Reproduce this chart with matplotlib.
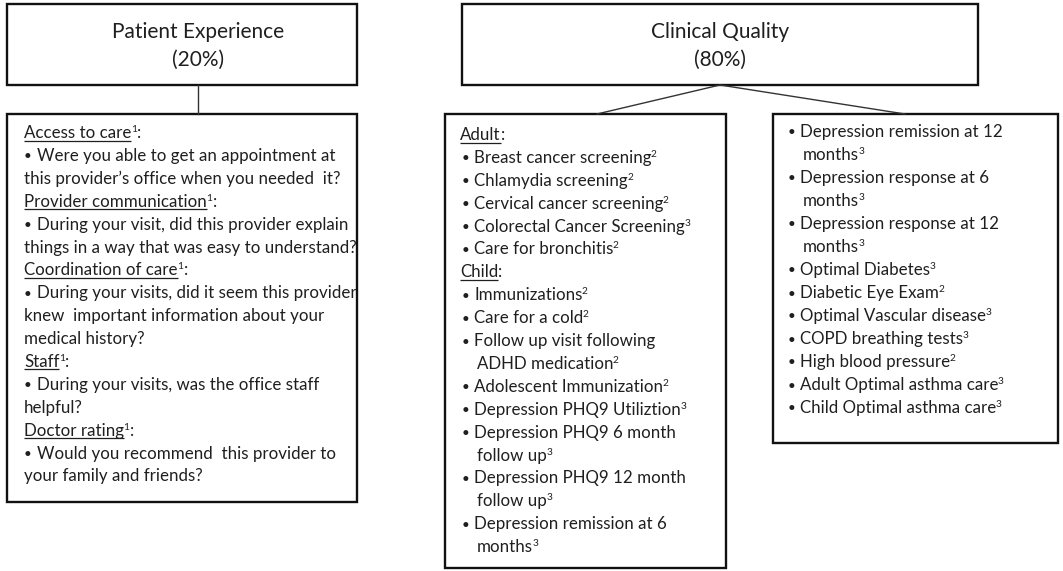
import matplotlib
matplotlib.use("Agg")
import matplotlib.pyplot as plt
from matplotlib.patches import Rectangle

W, H = 1063, 571
FONT = "Lato"
BODY = 12.2
HEAD = 15.0
TXT = "#1f1f1f"

# ---- content (text data) ----
patient_header = ["Patient Experience", "(20%)"]
clinical_header = ["Clinical Quality", "(80%)"]

# patient box lines: list of runs (text, kind) kind: n=normal, u=underline, s=superscript, b=bullet
patient_lines = [
    [("Access to care", "u"), ("1", "s"), (":", "n")],
    [("•", "b"), ("Were you able to get an appointment at", "n")],
    [("this provider’s office when you needed  it?", "n")],
    [("Provider communication", "u"), ("1", "s"), (":", "n")],
    [("•", "b"), ("During your visit, did this provider explain", "n")],
    [("things in a way that was easy to understand?", "n")],
    [("Coordination of care", "u"), ("1", "s"), (":", "n")],
    [("•", "b"), ("During your visits, did it seem this provider", "n")],
    [("knew  important information about your", "n")],
    [("medical history?", "n")],
    [("Staff", "u"), ("1", "s"), (":", "n")],
    [("•", "b"), ("During your visits, was the office staff", "n")],
    [("helpful?", "n")],
    [("Doctor rating", "u"), ("1", "s"), (":", "n")],
    [("•", "b"), ("Would you recommend  this provider to", "n")],
    [("your family and friends?", "n")],
]

# clinical items: (kind, lines, footnote)
clinical_left = [
    ("h", ["Adult"], ""),
    ("b", ["Breast cancer screening"], "2"),
    ("b", ["Chlamydia screening"], "2"),
    ("b", ["Cervical cancer screening"], "2"),
    ("b", ["Colorectal Cancer Screening"], "3"),
    ("b", ["Care for bronchitis"], "2"),
    ("h", ["Child"], ""),
    ("b", ["Immunizations"], "2"),
    ("b", ["Care for a cold"], "2"),
    ("b", ["Follow up visit following", "ADHD medication"], "2"),
    ("b", ["Adolescent Immunization"], "2"),
    ("b", ["Depression PHQ9 Utiliztion"], "3"),
    ("b", ["Depression PHQ9 6 month", "follow up"], "3"),
    ("b", ["Depression PHQ9 12 month", "follow up"], "3"),
    ("b", ["Depression remission at 6", "months"], "3"),
]
clinical_right = [
    ("b", ["Depression remission at 12", "months"], "3"),
    ("b", ["Depression response at 6", "months"], "3"),
    ("b", ["Depression response at 12", "months"], "3"),
    ("b", ["Optimal Diabetes"], "3"),
    ("b", ["Diabetic Eye Exam"], "2"),
    ("b", ["Optimal Vascular disease"], "3"),
    ("b", ["COPD breathing tests"], "3"),
    ("b", ["High blood pressure"], "2"),
    ("b", ["Adult Optimal asthma care"], "3"),
    ("b", ["Child Optimal asthma care"], "3"),
]

# ---- figure ----
fig = plt.figure(figsize=(W / 100, H / 100), dpi=100)
ax = fig.add_axes([0, 0, 1, 1])
ax.set_xlim(0, W)
ax.set_ylim(H, 0)
ax.axis("off")
fig.canvas.draw()
renderer = fig.canvas.get_renderer()


def width_of(t):
    bb = t.get_window_extent(renderer=renderer)
    return bb.width


def bullet(x, y):
    ax.text(x, y - 0.5, "•", fontsize=BODY * 0.8, family=FONT, ha="left",
            va="baseline", color=TXT)


def runs_at(x, y, runs, bullet_gap=13):
    for text, kind in runs:
        if kind == "s":
            t = ax.text(x - 0.5, y - 6, text, fontsize=BODY * 0.6, family=FONT,
                        ha="left", va="baseline", color=TXT)
            x += width_of(t)
        elif kind == "b":
            bullet(x, y)
            x += bullet_gap
        else:
            t = ax.text(x, y, text, fontsize=BODY, family=FONT, ha="left",
                        va="baseline", color=TXT)
            w = width_of(t)
            if kind == "u":
                ax.plot([x, x + w], [y + 2.5, y + 2.5], color=TXT, lw=0.9,
                        solid_capstyle="butt")
            x += w


def box(x0, y0, x1, y1):
    ax.add_patch(Rectangle((x0, y0), x1 - x0, y1 - y0, fill=False,
                           edgecolor="#111111", lw=1.7))


# boxes
box(7, 4, 357, 85)
box(7, 114, 357, 502)
box(462, 4, 978, 85)
box(445, 114, 726, 568)
box(773, 114, 1058, 443)

# connectors
ax.plot([198, 198], [85, 114], color="#333333", lw=1)
ax.plot([720, 597], [85, 114], color="#333333", lw=1)
ax.plot([720, 905], [85, 114], color="#333333", lw=1)

# headers
for cx, lines in ((198, patient_header), (720, clinical_header)):
    ax.text(cx, 38, lines[0], fontsize=HEAD, family=FONT, ha="center",
            va="baseline", color=TXT)
    ax.text(cx, 66, lines[1], fontsize=HEAD, family=FONT, ha="center",
            va="baseline", color=TXT)

# patient box
LS = 22.9
y = 138
for runs in patient_lines:
    runs_at(24, y, runs)
    y += LS


def draw_items(items, y, head_x, bullet_x, text_x, cont_x, ls):
    for kind, lines, fn in items:
        if kind == "h":
            runs_at(head_x, y, [(lines[0], "u"), (":", "n")])
            y += ls
            continue
        bullet(bullet_x, y)
        for i, ln in enumerate(lines):
            x = text_x if i == 0 else cont_x
            runs = [(ln, "n")]
            if i == len(lines) - 1 and fn:
                runs.append((fn, "s"))
            runs_at(x, y, runs)
            y += ls


draw_items(clinical_left, 140, 460, 462, 474, 477, 22.9)
draw_items(clinical_right, 137, 788, 788, 800, 803, 23.0)

fig.savefig("out.png", dpi=100)
